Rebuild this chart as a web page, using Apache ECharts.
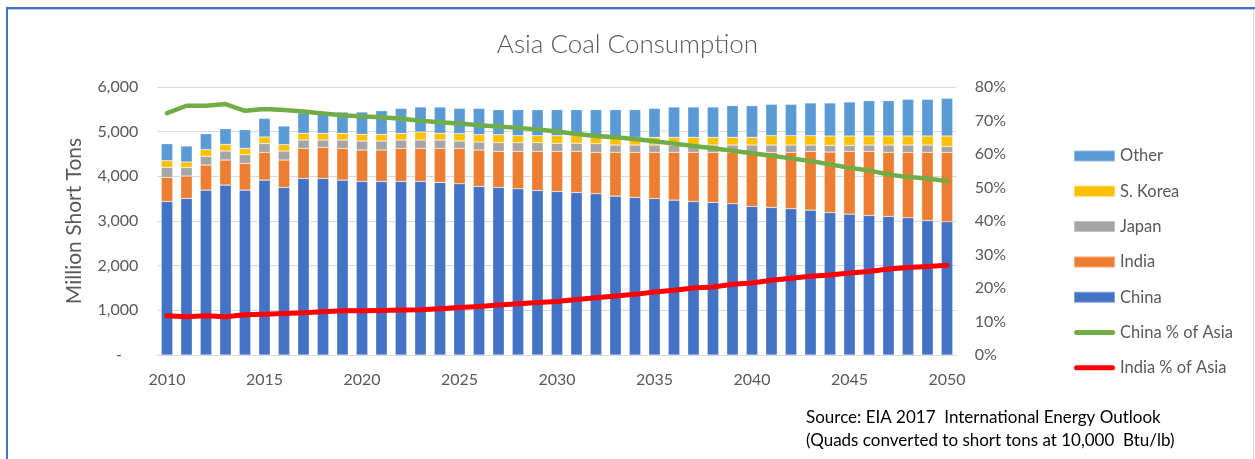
<!DOCTYPE html>
<html>
<head>
<meta charset="utf-8">
<script src="https://cdn.jsdelivr.net/npm/echarts@6/dist/echarts.min.js"></script>
<style>
  html, body { margin: 0; padding: 0; background: #fff; }
  #chart { width: 1255px; height: 459px; }
</style>
</head>
<body>
<div id="chart"></div>
<script>
const years = [];
for (let y = 2010; y <= 2050; y++) years.push(String(y));

// Million short tons (segment values)
const china = [3438,3505,3692,3804,3692,3916,3752,3954,3954,3916,3886,3886,3886,3886,3864,3834,3774,3752,3722,3685,3662,3640,3610,3558,3528,3505,3468,3438,3416,3386,3326,3304,3274,3244,3191,3154,3124,3102,3072,3012,2982];
const india = [538,501,561,561,598,621,613,672,695,710,703,703,740,740,762,792,815,807,837,874,897,919,927,979,1009,1032,1069,1099,1121,1151,1211,1233,1263,1315,1353,1405,1435,1435,1465,1525,1555];
const japan = [224,194,194,202,194,202,202,187,164,187,202,202,187,187,187,165,179,194,194,194,180,180,194,164,164,164,164,164,164,164,164,164,164,142,150,135,142,164,164,164,134];
const korea = [150,120,150,149,142,141,142,150,150,150,149,149,150,180,150,164,165,180,157,157,171,171,142,172,172,172,172,172,172,172,172,209,209,209,209,209,202,202,202,202,232];
const other = [381,359,358,351,419,419,418,456,467,477,501,531,560,560,590,568,590,560,583,583,583,583,620,620,620,650,680,680,680,710,710,703,703,733,740,762,792,792,822,822,844];

// Percent of Asia total (right axis)
const chinaPct = [72.2,74.4,74.4,74.9,72.9,73.4,73.1,72.7,72.1,71.6,71.2,71.0,70.5,69.9,69.5,69.1,68.6,68.2,67.8,67.3,66.7,66.0,65.4,65.0,64.5,63.8,63.1,62.4,61.7,61.0,60.2,59.5,58.7,57.9,56.9,55.9,55.1,53.9,53.1,52.7,51.9];
const indiaPct = [11.75,11.4,11.75,11.4,12.0,12.2,12.4,12.6,12.9,13.2,13.2,13.3,13.4,13.5,13.8,14.2,14.5,14.9,15.3,15.7,16.0,16.6,17.1,17.6,18.1,18.8,19.3,20.0,20.3,21.1,21.5,22.3,22.9,23.5,23.9,24.5,24.9,25.7,26.1,26.4,26.8];

const FONT = 'Lato, "Open Sans", sans-serif';
const GREY = '#595959';
const LINE_ICON = 'path://M2.5,0 L38.5,0 A2.5,2.5 0 0 1 38.5,5 L2.5,5 A2.5,2.5 0 0 1 2.5,0 Z';

const chart = echarts.init(document.getElementById('chart'), null, { renderer: 'canvas' });

function bar(name, data, color) {
  return {
    name, type: 'bar', stack: 'coal', data, barWidth: 11.5,
    itemStyle: { color, borderColor: 'rgba(255,255,255,0.35)', borderWidth: 0.6 },
    emphasis: { disabled: true }
  };
}

chart.setOption({
  animation: false,
  textStyle: { fontFamily: FONT },
  title: {
    text: 'Asia Coal Consumption',
    left: 'center', top: 27,
    textStyle: { fontFamily: FONT, fontWeight: 300, fontSize: 26, color: GREY }
  },
  legend: {
    orient: 'vertical',
    left: 1073, top: 147, padding: 0,
    itemWidth: 41, itemHeight: 11,
    itemGap: 17.3, itemTextGap: 6,
    textStyle: { fontFamily: FONT, fontSize: 16.5, color: GREY, lineHeight: 18 },
    data: [
      { name: 'Other', icon: 'rect' },
      { name: 'S. Korea', icon: 'rect' },
      { name: 'Japan', icon: 'rect' },
      { name: 'India', icon: 'rect' },
      { name: 'China', icon: 'rect' },
      { name: 'China % of Asia', icon: LINE_ICON },
      { name: 'India % of Asia', icon: LINE_ICON }
    ]
  },
  grid: { left: 157.25, right: 298.25, top: 87, bottom: 104, containLabel: false },
  xAxis: {
    type: 'category', data: years,
    axisLine: { lineStyle: { color: '#D9D9D9', width: 1 } },
    axisTick: { show: false },
    axisLabel: { interval: 4, margin: 17, fontFamily: FONT, fontSize: 16, color: GREY }
  },
  yAxis: [
    {
      type: 'value', min: 0, max: 6000, interval: 1000,
      name: 'Million Short Tons', nameLocation: 'middle', nameGap: 73, nameRotate: 90,
      nameTextStyle: { fontFamily: FONT, fontSize: 21, color: GREY },
      axisLine: { show: false }, axisTick: { show: false },
      splitLine: { lineStyle: { color: '#D9D9D9' } },
      axisLabel: {
        margin: 19, fontFamily: FONT, fontSize: 16, color: GREY,
        formatter: v => v === 0 ? '-    ' : v.toLocaleString('en-US')
      }
    },
    {
      type: 'value', min: 0, max: 80, interval: 10, position: 'right',
      axisLine: { show: false }, axisTick: { show: false },
      splitLine: { show: false },
      axisLabel: { margin: 18, fontFamily: FONT, fontSize: 16, color: GREY, formatter: v => v + '%' }
    }
  ],
  series: [
    bar('China', china, '#4472C4'),
    bar('India', india, '#ED7D31'),
    bar('Japan', japan, '#A5A5A5'),
    bar('S. Korea', korea, '#FFC000'),
    bar('Other', other, '#5B9BD5'),
    {
      name: 'China % of Asia', type: 'line', yAxisIndex: 1, data: chinaPct,
      symbol: 'none', z: 5,
      lineStyle: { color: '#70AD47', width: 4.5, cap: 'round', join: 'round' },
      itemStyle: { color: '#70AD47' }
    },
    {
      name: 'India % of Asia', type: 'line', yAxisIndex: 1, data: indiaPct,
      symbol: 'none', z: 5,
      lineStyle: { color: '#FF0000', width: 5, cap: 'round', join: 'round' },
      itemStyle: { color: '#FF0000' }
    }
  ],
  graphic: [
    { type: 'rect', shape: { x: 6, y: 7, width: 1249, height: 2 }, style: { fill: '#4472C4' }, silent: true },
    { type: 'rect', shape: { x: 6, y: 9, width: 1249, height: 1 }, style: { fill: '#B4C7E7' }, silent: true },
    { type: 'rect', shape: { x: 6, y: 7, width: 2, height: 452 }, style: { fill: '#4472C4' }, silent: true },
    { type: 'rect', shape: { x: 1253, y: 10, width: 1, height: 449 }, style: { fill: '#D9D9D9' }, silent: true },
    {
      type: 'text', left: 806, top: 406, silent: true,
      style: {
        text: 'Source: EIA 2017  International Energy Outlook\n(Quads converted to short tons at 10,000  Btu/lb)',
        fontFamily: FONT, fontSize: 17, lineHeight: 23, fill: '#000'
      }
    }
  ]
});
</script>
</body>
</html>
